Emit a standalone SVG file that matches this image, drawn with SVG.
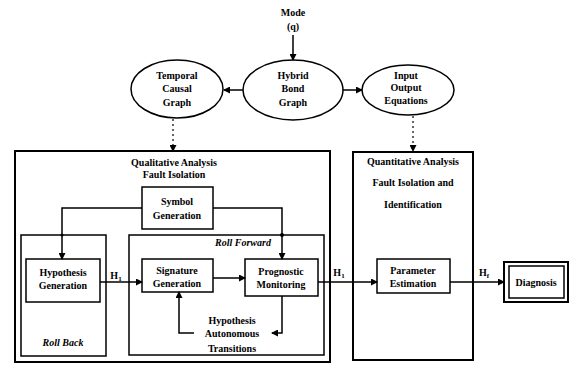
<svg xmlns="http://www.w3.org/2000/svg" width="572" height="365" viewBox="0 0 572 365">
<defs>
<marker id="ah" markerWidth="7" markerHeight="7" refX="6" refY="3.5" orient="auto" markerUnits="userSpaceOnUse">
<path d="M0,0 L7,3.5 L0,7 z" fill="#000"/>
</marker>
<style>
text{font-family:"Liberation Serif","Times New Roman",serif;font-weight:bold;font-size:10px;fill:#000;text-anchor:middle}
.it{font-style:italic}
.box{fill:none;stroke:#000;stroke-width:2}
.thin{fill:none;stroke:#000;stroke-width:1.5}
.ln{fill:none;stroke:#000;stroke-width:1.5}
.dot{fill:none;stroke:#000;stroke-width:1.2;stroke-dasharray:2,3}
</style>
</defs>
<rect width="572" height="365" fill="#fff"/>

<g id="mode"><text x="293" y="16" font-size="11">Mode</text><text x="293" y="30">(q)</text></g>

<g id="tcg"><ellipse class="thin" cx="177" cy="89" rx="46" ry="29"/>
<text x="177" y="79">Temporal</text><text x="177" y="92">Causal</text><text x="177" y="106">Graph</text></g>

<g id="hbg"><ellipse class="thin" cx="293" cy="90" rx="50" ry="30"/>
<text x="293" y="79">Hybrid</text><text x="293" y="92">Bond</text><text x="293" y="106">Graph</text></g>

<g id="ioe"><ellipse class="thin" cx="408" cy="90" rx="46" ry="25"/>
<text x="406" y="79">Input</text><text x="406" y="91">Output</text><text x="406" y="104">Equations</text></g>

<g id="qual"><rect class="box" x="15" y="151" width="315" height="211"/>
<text x="174" y="166">Qualitative Analysis</text><text x="174" y="178">Fault Isolation</text></g>

<g id="symbol"><rect class="thin" x="142" y="187" width="71" height="42"/>
<text x="177" y="205">Symbol</text><text x="177" y="219">Generation</text></g>

<g id="rollback"><rect class="thin" x="21" y="235" width="85" height="121"/>
<text class="it" x="63" y="346">Roll Back</text></g>

<g id="rollforward"><rect class="thin" x="129" y="235" width="195" height="120"/>
<text class="it" x="243" y="246">Roll Forward</text></g>

<g id="hypgen"><rect class="thin" x="26" y="259" width="74" height="43"/>
<text x="63" y="276">Hypothesis</text><text x="63" y="289">Generation</text></g>

<g id="siggen"><rect class="thin" x="142" y="259" width="71" height="33"/>
<text x="177" y="274">Signature</text><text x="177" y="287">Generation</text></g>

<g id="prog"><rect class="thin" x="245" y="259" width="73" height="37"/>
<text x="281" y="275">Prognostic</text><text x="281" y="288">Monitoring</text></g>

<g id="hat"><text x="232" y="324">Hypothesis</text><text x="232" y="337">Autonomous</text><text x="232" y="352">Transitions</text></g>

<g id="quant"><rect class="box" x="353" y="152" width="120" height="208"/>
<text x="413" y="165">Quantitative Analysis</text><text x="413" y="186">Fault Isolation and</text><text x="413" y="208">Identification</text></g>

<g id="param"><rect class="thin" x="377" y="259" width="73" height="34"/>
<text x="413" y="274">Parameter</text><text x="413" y="287">Estimation</text></g>

<g id="diag"><rect class="box" x="504" y="262" width="64" height="40"/><rect class="thin" x="509" y="266" width="55" height="32"/>
<text x="536" y="286">Diagnosis</text></g>

<g id="connectors">
<line class="ln" x1="293" y1="35" x2="293" y2="60" marker-end="url(#ah)"/>
<line class="ln" x1="243" y1="90" x2="224" y2="90" marker-end="url(#ah)"/>
<line class="ln" x1="343" y1="90" x2="362" y2="90" marker-end="url(#ah)"/>
<line class="dot" x1="173" y1="119" x2="173" y2="151" marker-end="url(#ah)"/>
<line class="dot" x1="413" y1="116" x2="413" y2="151" marker-end="url(#ah)"/>
<polyline class="ln" points="142,208 62,208 62,259" marker-end="url(#ah)"/>
<polyline class="ln" points="213,208 282,208 282,259" marker-end="url(#ah)"/>
<circle cx="282" cy="235" r="2"/>
<circle cx="62" cy="235" r="1.5"/>
<line class="ln" x1="100" y1="282" x2="142" y2="282" marker-end="url(#ah)"/>
<text x="116" y="279">H<tspan font-size="7" dy="2">1</tspan></text>
<line class="ln" x1="213" y1="278" x2="245" y2="278" marker-end="url(#ah)"/>
<polyline class="ln" points="282,296 282,333 272,333" marker-end="url(#ah)"/>
<polyline class="ln" points="194,333 179,333 179,292" marker-end="url(#ah)"/>
<line class="ln" x1="318" y1="282" x2="377" y2="282" marker-end="url(#ah)"/>
<text x="339" y="276">H<tspan font-size="7" dy="2">1</tspan></text>
<line class="ln" x1="450" y1="282" x2="504" y2="282" marker-end="url(#ah)"/>
<text x="484" y="276">H<tspan font-size="7" dy="2">f</tspan></text>
</g>
</svg>
